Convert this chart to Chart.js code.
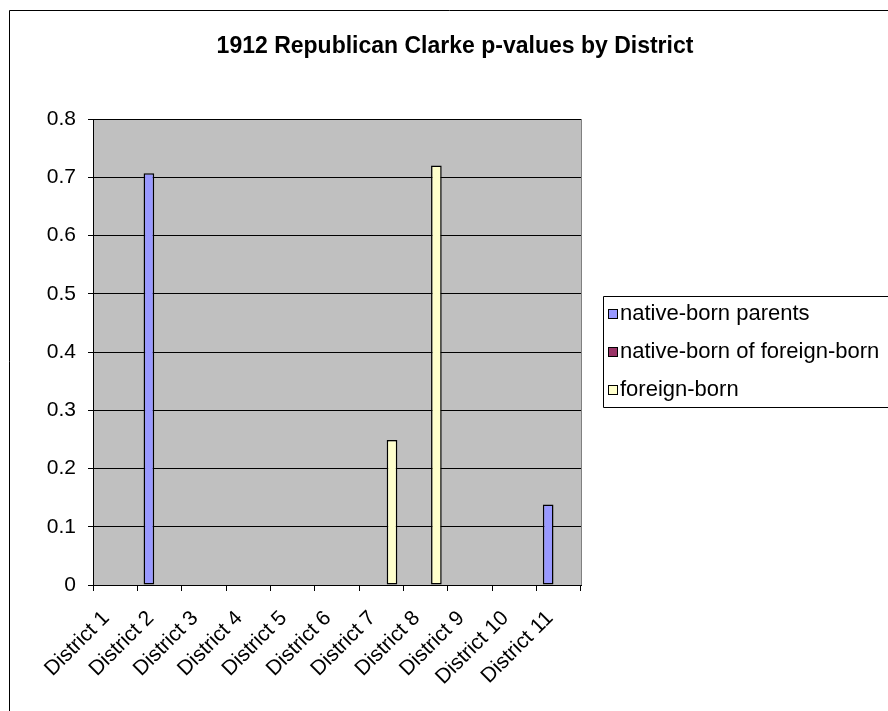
<!DOCTYPE html>
<html>
<head>
<meta charset="utf-8">
<script src="https://cdn.jsdelivr.net/npm/chart.js@4.4.1/dist/chart.umd.min.js"></script>
<style>
  html, body { margin: 0; padding: 0; background: #fff; }
  #wrap { width: 888px; height: 711px; position: relative; }
</style>
</head>
<body>
<div id="wrap"><canvas id="c" width="888" height="711"></canvas></div>
<script>
const chartTitle = "1912 Republican Clarke p-values by District";
const categories = ["District 1", "District 2", "District 3", "District 4", "District 5", "District 6", "District 7", "District 8", "District 9", "District 10", "District 11"];
const seriesNames = ["native-born parents", "native-born of foreign-born", "foreign-born"];
const nativeBornParents = [null, 0.707, null, null, null, null, null, null, null, null, 0.138];
const nativeBornOfForeignBorn = [null, null, null, null, null, null, null, null, null, null, null];
const foreignBorn = [null, null, null, null, null, null, 0.249, 0.720, null, null, null];
const yTicks = [0, 0.1, 0.2, 0.3, 0.4, 0.5, 0.6, 0.7, 0.8];

const colors = ["#9999FF", "#993366", "#FFFFCC"];
const FONT = "'Liberation Sans', Arial, sans-serif";

const AREA = { left: 93, right: 581, top: 119, bottom: 585 };
const W = 888, H = 711;

const decorPlugin = {
  id: 'decor',
  beforeDraw(chart) {
    const ctx = chart.ctx;
    const a = chart.chartArea;
    ctx.save();
    ctx.fillStyle = '#C0C0C0';
    ctx.fillRect(a.left, a.top, a.right - a.left, a.bottom - a.top);
    ctx.restore();
  },
  afterDraw(chart) {
    const ctx = chart.ctx;
    const a = chart.chartArea;
    ctx.save();
    // plot area border (right)
    ctx.strokeStyle = '#808080';
    ctx.lineWidth = 1;
    ctx.beginPath();
    ctx.moveTo(Math.round(a.right) + 0.5, a.top);
    ctx.lineTo(Math.round(a.right) + 0.5, a.bottom);
    ctx.stroke();
    // outer chart border
    ctx.strokeStyle = '#000';
    ctx.lineWidth = 1;
    ctx.beginPath();
    ctx.moveTo(9.5, H + 2);
    ctx.lineTo(9.5, 10.5);
    ctx.lineTo(W + 2, 10.5);
    ctx.stroke();
    // title
    ctx.fillStyle = '#000';
    ctx.font = "bold 23px " + FONT;
    ctx.textAlign = 'center';
    ctx.textBaseline = 'middle';
    ctx.fillText(chartTitle, 455, 47);
    // legend box
    ctx.strokeStyle = '#000';
    ctx.beginPath();
    ctx.moveTo(W + 2, 296.5);
    ctx.lineTo(603.5, 296.5);
    ctx.lineTo(603.5, 407.5);
    ctx.lineTo(W + 2, 407.5);
    ctx.stroke();
    ctx.font = "22px " + FONT;
    ctx.textAlign = 'left';
    chart.data.datasets.forEach((ds, i) => {
      const cy = 314 + i * 38;
      ctx.fillStyle = ds.backgroundColor;
      ctx.fillRect(608, cy - 5, 10, 10);
      ctx.strokeStyle = '#000';
      ctx.strokeRect(608.5, cy - 4.5, 9, 9);
      ctx.fillStyle = '#000';
      ctx.fillText(ds.label, 620, cy);
    });
    ctx.restore();
  }
};

new Chart(document.getElementById('c'), {
  type: 'bar',
  data: {
    labels: categories,
    datasets: [
      { label: seriesNames[0], data: nativeBornParents, backgroundColor: colors[0] },
      { label: seriesNames[1], data: nativeBornOfForeignBorn, backgroundColor: colors[1] },
      { label: seriesNames[2], data: foreignBorn, backgroundColor: colors[2] }
    ]
  },
  options: {
    responsive: false,
    animation: false,
    devicePixelRatio: 1,
    layout: { padding: { top: AREA.top, right: W - AREA.right, left: 0, bottom: 0 } },
    datasets: {
      bar: {
        borderColor: '#000',
        borderWidth: 1.5,
        borderSkipped: false,
        barPercentage: 1.0,
        categoryPercentage: 0.72
      }
    },
    plugins: {
      legend: { display: false },
      title: { display: false },
      tooltip: { enabled: false }
    },
    scales: {
      x: {
        offset: true,
        grid: {
          offset: true,
          drawOnChartArea: false,
          drawTicks: true,
          tickLength: 6,
          color: '#000',
          tickColor: '#000'
        },
        border: { display: true, color: '#000', width: 1 },
        ticks: {
          color: '#000',
          font: { family: FONT, size: 21 },
          minRotation: 45,
          maxRotation: 45,
          autoSkip: false,
          padding: 15,
          labelOffset: -9
        },
        afterFit(scale) {
          scale.height = H - AREA.bottom;
          scale.paddingLeft = 0;
          scale.paddingRight = 0;
        }
      },
      y: {
        min: 0,
        max: 0.8,
        afterBuildTicks(scale) {
          scale.ticks = yTicks.map(v => ({ value: v }));
        },
        grid: {
          drawOnChartArea: true,
          drawTicks: true,
          tickLength: 5,
          color: '#000',
          tickColor: '#000'
        },
        border: { display: true, color: '#000', width: 1 },
        ticks: {
          color: '#000',
          font: { family: FONT, size: 21 },
          padding: 12,
          callback: v => String(Math.round(v * 10) / 10)
        },
        afterFit(scale) {
          scale.width = AREA.left;
          scale.paddingTop = 0;
          scale.paddingBottom = 0;
        }
      }
    }
  },
  plugins: [decorPlugin]
});
</script>
</body>
</html>
